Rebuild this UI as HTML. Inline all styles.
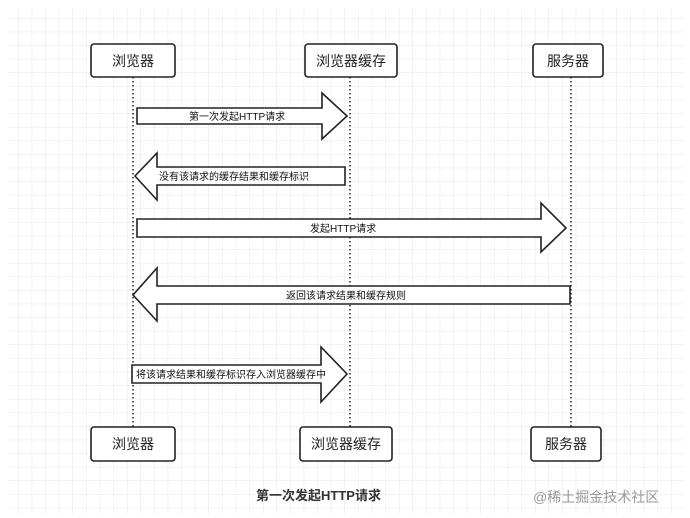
<!DOCTYPE html>
<html><head><meta charset="utf-8"><style>
body{margin:0;background:#fff}
svg{display:block}
text{font-family:"Liberation Sans","Noto Sans CJK SC",sans-serif}
</style></head><body>
<svg width="690" height="518" viewBox="0 0 690 518" xmlns="http://www.w3.org/2000/svg">
<defs>
<pattern id="g" width="13.6" height="13.6" patternUnits="userSpaceOnUse" x="5" y="5">
<path d="M13.6 0V13.6H0" fill="none" stroke="#e6e6e6" stroke-width="1"/>
</pattern>
</defs>
<rect width="690" height="518" fill="#fff"/>
<rect x="8" y="8" width="676" height="506" fill="url(#g)"/>
<g stroke="#222" stroke-width="1.5" stroke-dasharray="1.5,2.5">
<line x1="133" y1="77" x2="133" y2="427"/>
<line x1="350" y1="77" x2="350" y2="427"/>
<line x1="571" y1="77" x2="571" y2="427"/>
</g>
<g fill="#fff" stroke="#222" stroke-width="1.6">
<rect x="91" y="44" width="84" height="33" rx="3"/>
<rect x="305" y="44" width="92" height="33" rx="3"/>
<rect x="533" y="44" width="70" height="33" rx="3"/>
<rect x="91" y="427" width="84" height="34" rx="3"/>
<rect x="300" y="427" width="92" height="34" rx="3"/>
<rect x="531" y="427" width="70" height="34" rx="3"/>
<path d="M137 108H322V93L347 116L322 139V124H137Z"/>
<path d="M345 167H157V153L135 176L157 200V185H345Z"/>
<path d="M137 219H541V203L566 228L541 252V237H137Z"/>
<path d="M570 286H157V268L133 295L157 321V304H570Z"/>
<path d="M132 365H321V347L347 374L321 402V383H132Z"/>
</g>
<g font-size="14" text-anchor="middle" fill="#222">
<text x="133" y="66">浏览器</text>
<text x="351" y="66">浏览器缓存</text>
<text x="568" y="66">服务器</text>
<text x="133" y="449">浏览器</text>
<text x="346" y="449">浏览器缓存</text>
<text x="566" y="449">服务器</text>
</g>
<g font-size="10" fill="#111">
<text x="189" y="120">第一次发起HTTP请求</text>
<text x="159" y="180">没有该请求的缓存结果和缓存标识</text>
<text x="310" y="232">发起HTTP请求</text>
<text x="286" y="299">返回该请求结果和缓存规则</text>
<text x="136" y="378">将该请求结果和缓存标识存入浏览器缓存中</text>
</g>
<text x="256" y="500" font-size="13" font-weight="bold" fill="#333">第一次发起HTTP请求</text>
<text x="533" y="502" font-size="14" fill="#999">@稀土掘金技术社区</text>
</svg>
</body></html>
